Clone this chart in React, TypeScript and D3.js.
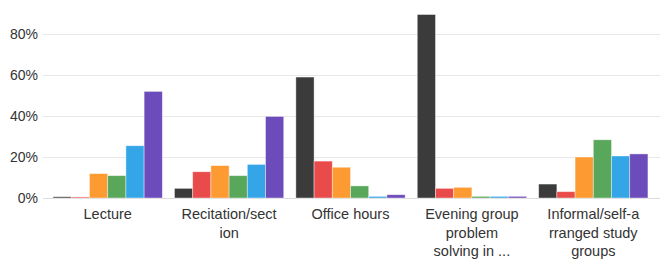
import React from 'react';
import { scaleBand, scaleLinear } from 'd3';

const categories = ['Lecture', 'Recitation/section', 'Office hours', 'Evening group problem solving in ...', 'Informal/self-arranged study groups'];
const categoryLines = [
  ['Lecture'],
  ['Recitation/sect', 'ion'],
  ['Office hours'],
  ['Evening group', 'problem', 'solving in ...'],
  ['Informal/self-a', 'rranged study', 'groups'],
];
const seriesNames = ['s1', 's2', 's3', 's4', 's5', 's6'];
const seriesColors = ['#3b3b3b', '#e84b4a', '#fd9a32', '#58a75b', '#34a6e7', '#6c4bba'];

const s1 = [0.6, 4.7, 59, 89.5, 6.8];
const s2 = [0.5, 12.8, 18, 4.7, 3.1];
const s3 = [11.9, 15.8, 15, 5.2, 20];
const s4 = [10.9, 10.9, 5.9, 0.8, 28.4];
const s5 = [25.5, 16.4, 0.8, 0.8, 20.5];
const s6 = [52, 39.8, 1.6, 0.8, 21.5];
const seriesValues = [s1, s2, s3, s4, s5, s6];

const yTicks = [0, 20, 40, 60, 80];

export default function App() {
  const width = 666;
  const height = 259;

  const x0 = scaleBand<string>().domain(categories).range([47, 654]).paddingInner(0.1).paddingOuter(0.05);
  const x1 = scaleBand<string>().domain(seriesNames).range([0, x0.bandwidth()]);
  const y = scaleLinear().domain([0, 80]).range([198, 34]);

  return (
    <svg width={width} height={height} style={{ position: 'absolute', left: 0, top: 0 }}
      fontFamily="'Liberation Sans', Arial, sans-serif">
      {yTicks.map(t => (
        <g key={t}>
          <line x1={43} x2={660} y1={Math.round(y(t)) + 0.5} y2={Math.round(y(t)) + 0.5}
            stroke={t === 0 ? '#dcdcdc' : '#e8e8e8'} strokeWidth={1} />
          <text x={38} y={y(t)} dy="0.36em" textAnchor="end" fontSize={14} fill="#333">{t + '%'}</text>
        </g>
      ))}
      {categories.map((c, i) => (
        <g key={c} transform={'translate(' + x0(c) + ',0)'}>
          {seriesNames.map((s, j) => (
            <rect key={s}
              x={x1(s)}
              y={y(seriesValues[j][i])}
              width={x1.bandwidth()}
              height={y(0) - y(seriesValues[j][i])}
              fill={seriesColors[j]}
              stroke="#ffffff"
              strokeOpacity={0.5}
              strokeWidth={0.8}
            />
          ))}
        </g>
      ))}
      {categories.map((c, i) => (
        <text key={c} x={(x0(c) || 0) + x0.bandwidth() / 2} y={219} textAnchor="middle" fontSize={14.5} fill="#333">
          {categoryLines[i].map((line, k) => (
            <tspan key={k} x={(x0(c) || 0) + x0.bandwidth() / 2} dy={k === 0 ? 0 : 18.5}>{line}</tspan>
          ))}
        </text>
      ))}
    </svg>
  );
}
